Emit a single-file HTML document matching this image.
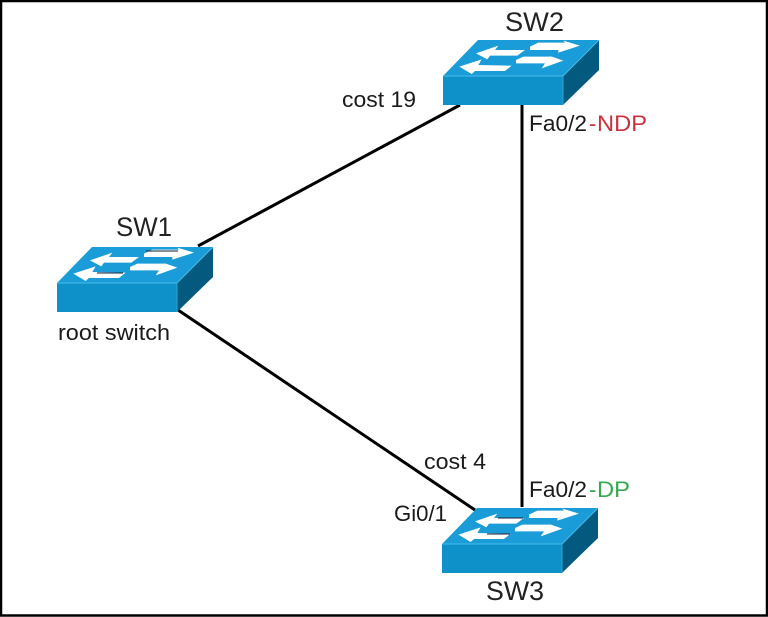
<!DOCTYPE html>
<html><head><meta charset="utf-8"><style>
html,body{margin:0;padding:0;background:#fff}
svg{display:block}
text{font-family:"Liberation Sans",sans-serif;fill:#1a1a1a;font-size:22px}
.sw{font-size:27px;fill:#222}
</style></head><body>
<svg width="768" height="617" viewBox="0 0 768 617" xmlns="http://www.w3.org/2000/svg">
<defs>
<g id="s">
<polygon points="478,40 599,40 563,76 443,76" fill="#1a9cd8"/>
<polygon points="443,76 563,76 563,105 443,105" fill="#0e90c8"/>
<polygon points="563,76 599,40 599,70 563,105" fill="#04597f"/>
<path d="M443,76H563L599,40" fill="none" stroke="#45bce8" stroke-width="1"/>
<path d="M563,76V105" stroke="#2ba6d6" stroke-width="1"/>
<g transform="translate(430,0) scale(.3333)" fill="#fff">
<polygon points="138,160 205,137 195,150 285,150 262,167 180,167 172,178"/>
<polygon points="300,140 325,128 405,128 400,122 450,137 385,158 385,150 300,150"/>
<polygon points="88,200 155,178 145,195 245,197 225,213 135,213 125,222"/>
<polygon points="258,180 280,170 365,170 355,166 400,182 335,205 345,190 258,190"/>
</g>
</g>
</defs>
<rect width="768" height="617" fill="#fff"/>
<rect x="1" y="1" width="766" height="614.5" fill="none" stroke="#000" stroke-width="2.5"/>
<g stroke="#000" stroke-width="3" fill="none">
<line x1="198" y1="246" x2="460" y2="105"/>
<line x1="178" y1="310" x2="475" y2="510"/>
<line x1="522" y1="105" x2="522" y2="507"/>
</g>
<use href="#s"/>
<use href="#s" transform="translate(-386,207)"/>
<use href="#s" transform="translate(-1,468)"/>
<g stroke="#123" stroke-width="1" fill="none">
<path d="M146,251H178M97,273H123"/>
<path d="M498,518H523M487,534H510"/>
</g>
<text class="sw" x="505" y="31" textLength="59" lengthAdjust="spacingAndGlyphs">SW2</text>
<text class="sw" x="116" y="236" textLength="56" lengthAdjust="spacingAndGlyphs">SW1</text>
<text class="sw" x="486" y="600" textLength="58" lengthAdjust="spacingAndGlyphs">SW3</text>
<text x="342" y="107" textLength="74" lengthAdjust="spacingAndGlyphs">cost 19</text>
<text x="424" y="469" textLength="62" lengthAdjust="spacingAndGlyphs">cost 4</text>
<text x="394" y="521" textLength="53" lengthAdjust="spacingAndGlyphs">Gi0/1</text>
<text x="58" y="340" textLength="112" lengthAdjust="spacingAndGlyphs">root switch</text>
<text x="529" y="131" textLength="58" lengthAdjust="spacingAndGlyphs">Fa0/2</text>
<text x="589" y="131" style="fill:#c8323c">-</text>
<text x="597" y="131" textLength="50" lengthAdjust="spacingAndGlyphs" style="fill:#c8323c">NDP</text>
<text x="529" y="497" textLength="58" lengthAdjust="spacingAndGlyphs">Fa0/2</text>
<text x="589" y="497" style="fill:#35a852">-</text>
<text x="597" y="497" textLength="33" lengthAdjust="spacingAndGlyphs" style="fill:#35a852">DP</text>
</svg>
</body></html>
